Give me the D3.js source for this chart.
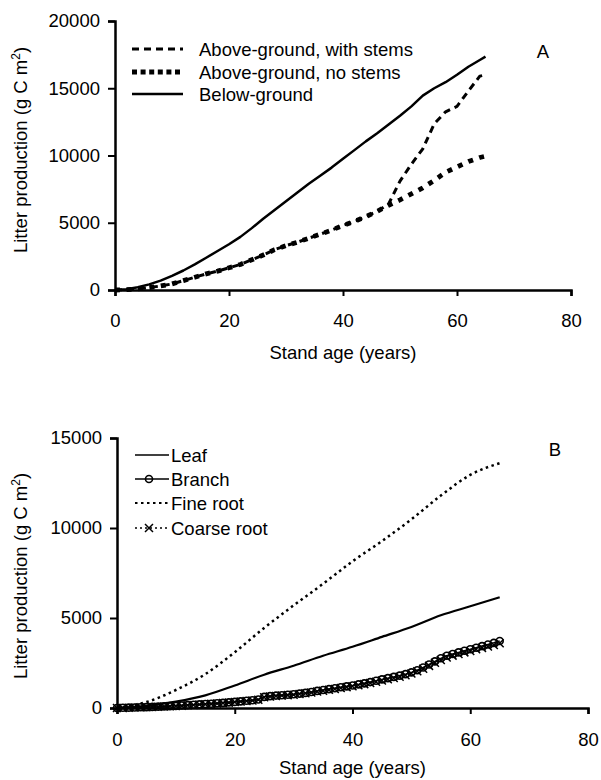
<!DOCTYPE html>
<html>
<head>
<meta charset="utf-8">
<script src="https://cdn.jsdelivr.net/npm/d3@7"></script>
<style>
body { margin: 0; background: #fff; }
svg text { font-family: "Liberation Sans", Arial, Helvetica, sans-serif; font-size: 18.5px; fill: #000; }
</style>
</head>
<body>
<svg id="chart" width="601" height="780"></svg>
<script>
// ---- panel A data (stand age in years, litter in g C m-2) ----
const agesA = [0, 2, 4, 6, 8, 10, 12, 14, 16, 18, 20, 22, 24, 26, 28, 30, 32, 34, 36, 38,
               40, 42, 44, 46, 48, 50, 52, 54, 56, 58, 60, 62, 64, 65];
const belowGround = [0, 60, 200, 420, 700, 1050, 1450, 1900, 2400, 2900, 3400, 3950, 4600, 5300, 5950, 6600, 7250, 7900, 8500, 9100,
                     9750, 10400, 11050, 11650, 12300, 12950, 13650, 14450, 15000, 15450, 16000, 16600, 17100, 17350];
const aboveNoStems = [0, 20, 80, 180, 300, 450, 700, 950, 1200, 1400, 1650, 1900, 2250, 2600, 3000, 3300, 3550, 3850, 4150, 4450,
                      4800, 5100, 5450, 5850, 6300, 6700, 7150, 7600, 8150, 8750, 9150, 9550, 9850, 9950];
const aboveWithStems = [0, 20, 80, 180, 300, 450, 700, 950, 1200, 1400, 1650, 1900, 2250, 2600, 3000, 3300, 3550, 3850, 4150, 4450,
                        4800, 5100, 5450, 5850, 6400, 8100, 9350, 10500, 12350, 13250, 13650, 14800, 15900, 16000];

// ---- panel B data ----
const agesB5 = [0, 5, 10, 15, 20, 25, 30, 35, 40, 45, 50, 55, 60, 65];
const leaf = [0, 120, 350, 700, 1250, 1850, 2350, 2900, 3400, 3950, 4500, 5150, 5650, 6150];
const fineRoot = [0, 330, 1000, 1880, 3100, 4450, 5700, 6900, 8150, 9270, 10480, 11800, 12950, 13600];

const agesB1 = [0, 1, 2, 3, 4, 5, 6, 7, 8, 9, 10, 11, 12, 13, 14, 15, 16, 17, 18, 19, 20, 21, 22,
                23, 24, 25, 26, 27, 28, 29, 30, 31, 32, 33, 34, 35, 36, 37, 38, 39, 40, 41, 42, 43, 44,
                45, 46, 47, 48, 49, 50, 51, 52, 53, 54, 55, 56, 57, 58, 59, 60, 61, 62, 63, 64, 65];
const branch = [0, 10, 20, 30, 40, 50, 60, 75, 90, 105, 120, 140, 160, 180, 200, 220, 240, 260, 285, 310, 340, 370, 400,
                430, 470, 620, 660, 690, 710, 735, 760, 800, 840, 890, 950, 1000, 1050, 1100, 1150, 1200, 1250, 1310, 1370, 1440, 1510,
                1590, 1660, 1730, 1800, 1880, 1980, 2100, 2250, 2420, 2590, 2760, 2900, 3000, 3090, 3180, 3260, 3350, 3440, 3530, 3620, 3720];
const coarseRoot = [0, 5, 15, 25, 35, 45, 55, 70, 85, 100, 115, 130, 150, 170, 190, 210, 230, 250, 275, 300, 330, 360, 390,
                    420, 460, 600, 640, 670, 690, 715, 740, 775, 815, 860, 915, 960, 1010, 1060, 1110, 1160, 1210, 1265, 1325, 1390, 1460,
                    1530, 1600, 1670, 1740, 1820, 1920, 2040, 2180, 2340, 2510, 2670, 2810, 2910, 3000, 3090, 3170, 3260, 3340, 3420, 3500, 3600];

const xTicks = [0, 20, 40, 60, 80];
const yTicksA = [0, 5000, 10000, 15000, 20000];
const yTicksB = [0, 5000, 10000, 15000];

const svg = d3.select("#chart");

/** One panel of the litter figure. */
class LitterPanel {

    constructor(opts) {
        this.opts = opts;
        this.g = svg.append("g");
        this.x = d3.scaleLinear().domain([0, 80]).range(opts.xRange);
        this.y = d3.scaleLinear().domain(opts.yDomain).range(opts.yRange);
    }

    drawAxes() {
        let o = this.opts;
        let xAxis = d3.axisBottom(this.x).tickValues(xTicks).tickFormat(d3.format("d"))
                      .tickSize(6).tickPadding(o.xPad);
        let yAxis = d3.axisLeft(this.y).tickValues(o.yTicks).tickFormat(d3.format("d"))
                      .tickSize(7).tickPadding(8);

        let gx = this.g.append("g").attr("transform", "translate(0," + o.yRange[0] + ")").call(xAxis);
        let gy = this.g.append("g").attr("transform", "translate(" + o.xRange[0] + ",0)").call(yAxis);
        [gx, gy].forEach(a => {
            a.attr("font-family", null).attr("font-size", null);
            a.select(".domain").attr("stroke", "#000").attr("stroke-width", 2.5);
            a.selectAll(".tick line").attr("stroke", "#000").attr("stroke-width", 2);
            a.selectAll(".tick text").attr("fill", "#000");
        });

        this.g.append("text")
            .attr("x", (o.xRange[0] + o.xRange[1]) / 2)
            .attr("y", o.xTitleY)
            .attr("text-anchor", "middle")
            .text("Stand age (years)");

        let yt = this.g.append("text")
            .attr("transform", "translate(27," + o.yTitleC + ") rotate(-90)")
            .attr("text-anchor", "middle");
        yt.append("tspan").text("Litter production (g C m");
        yt.append("tspan").attr("dy", "-7").style("font-size", "12px").text("2");
        yt.append("tspan").attr("dy", "7").text(")");

        this.g.append("text")
            .attr("x", o.letter.x).attr("y", o.letter.y)
            .attr("text-anchor", "middle")
            .text(o.letter.t);
    }

    drawSeries(series) {
        let that = this;
        series.forEach(s => {
            let pts = s.ages.map((a, i) => [a, s.values[i]]);
            let line = d3.line().x(d => that.x(d[0])).y(d => that.y(d[1]))
                         .curve(s.smooth ? d3.curveMonotoneX : d3.curveLinear);
            that.g.append("path")
                .datum(pts)
                .attr("d", line)
                .attr("fill", "none")
                .attr("stroke", "#000")
                .attr("stroke-width", s.width)
                .attr("stroke-dasharray", s.dash)
                .attr("stroke-linejoin", "round");
            if (s.marker) {
                that.drawMarkers(pts.map(d => [that.x(d[0]), that.y(d[1])]), s.marker);
            }
        });
    }

    drawMarkers(xy, kind) {
        if (kind == "circle") {
            this.g.append("g").selectAll("circle").data(xy).enter().append("circle")
                .attr("cx", d => d[0]).attr("cy", d => d[1]).attr("r", 3.5)
                .attr("fill", "none").attr("stroke", "#000").attr("stroke-width", 1.6);
        }
        else if (kind == "cross") {
            this.g.append("g").selectAll("path").data(xy).enter().append("path")
                .attr("d", d => "M" + (d[0] - 4) + "," + (d[1] - 4) + "L" + (d[0] + 4) + "," + (d[1] + 4) +
                                "M" + (d[0] - 4) + "," + (d[1] + 4) + "L" + (d[0] + 4) + "," + (d[1] - 4))
                .attr("stroke", "#000").attr("stroke-width", 1.5);
        }
    }

    drawLegend(series) {
        let l = this.opts.legend;
        series.forEach((s, i) => {
            let cy = l.rows[s.row];
            this.g.append("line")
                .attr("x1", l.x1).attr("x2", l.x2).attr("y1", cy).attr("y2", cy)
                .attr("stroke", "#000")
                .attr("stroke-width", s.legendWidth || s.width)
                .attr("stroke-dasharray", s.legendDash || s.dash);
            if (s.marker) {
                this.drawMarkers([[l.mx, cy]], s.marker);
            }
            this.g.append("text")
                .attr("x", l.tx).attr("y", cy + 6.5)
                .text(s.name);
        });
    }
}

// ---- panel A ----
let panelA = new LitterPanel({
    xRange: [115, 571], yRange: [290, 21], yDomain: [0, 20000], yTicks: yTicksA,
    xPad: 18, xTitleY: 359, yTitleC: 150,
    letter: {t: "A", x: 543, y: 58},
    legend: {x1: 132, x2: 183, tx: 199, mx: 157, rows: [49, 72, 94]}
});
// with-stems drawn first so the square dots of no-stems stay visible where they coincide
let seriesA = [
    {row: 0, name: "Above-ground, with stems", ages: agesA, values: aboveWithStems, dash: "7,5", width: 3},
    {row: 1, name: "Above-ground, no stems", ages: agesA, values: aboveNoStems, dash: "5,6.5", width: 4.8, legendDash: "5,3.6"},
    {row: 2, name: "Below-ground", ages: agesA, values: belowGround, dash: null, width: 2.5}
];
panelA.drawAxes();
panelA.drawSeries(seriesA);
panelA.drawLegend(seriesA);

// ---- panel B ----
let panelB = new LitterPanel({
    xRange: [117, 588], yRange: [708, 438], yDomain: [0, 15000], yTicks: yTicksB,
    xPad: 19, xTitleY: 774, yTitleC: 576,
    letter: {t: "B", x: 555, y: 456},
    legend: {x1: 135, x2: 169, tx: 171, mx: 149, rows: [455, 479, 503, 528]}
});
let seriesB = [
    {row: 0, name: "Leaf", ages: agesB5, values: leaf, dash: null, width: 2.2, legendWidth: 1.5, smooth: true},
    {row: 1, name: "Branch", ages: agesB1, values: branch, dash: null, width: 1.5, marker: "circle"},
    {row: 2, name: "Fine root", ages: agesB5, values: fineRoot, dash: "2.5,3.5", width: 2.5, legendWidth: 1.8, smooth: true},
    {row: 3, name: "Coarse root", ages: agesB1, values: coarseRoot, dash: "2,3", width: 1.5, marker: "cross"}
];
panelB.drawAxes();
panelB.drawSeries(seriesB);
panelB.drawLegend(seriesB);
</script>
</body>
</html>
